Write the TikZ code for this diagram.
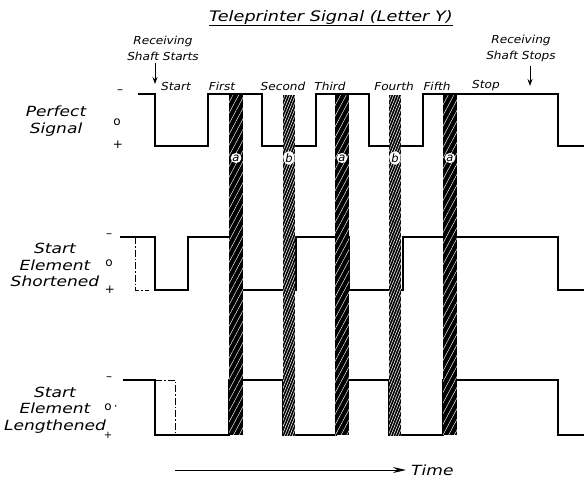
\documentclass[tikz,border=0pt]{standalone}
\usepackage{fontspec}
\setmainfont{DejaVu Sans}
\newfontfamily\handwide[FakeStretch=1.22]{DejaVu Sans}
\newfontfamily\handmid[FakeStretch=1.1]{DejaVu Sans}
\usetikzlibrary{patterns.meta,shapes.geometric,arrows.meta}
\begin{document}
\begin{tikzpicture}[x=1pt,y=-1pt,
  sig/.style={line width=1.4pt, line join=miter},
  dd/.style={line width=1pt, dash pattern=on 7pt off 2pt on 1.5pt off 2pt},
  lbl/.style={font=\handwide\itshape\fontsize{14}{16.5}\selectfont, inner sep=0pt},
  col/.style={font=\handmid\itshape\fontsize{11}{16}\selectfont, inner sep=0pt},
  mk/.style={font=\fontsize{12}{14}\selectfont, inner sep=0pt},
  abar/.style={fill=black, minimum width=14pt, minimum height=340pt, inner sep=0pt,
    postaction={pattern={Lines[angle=62,distance=5pt,line width=0.45pt]}, pattern color=white}},
  bbar/.style={fill=black, minimum width=12pt, minimum height=340pt, inner sep=0pt,
    postaction={pattern={Lines[angle=68,distance=2.4pt,line width=0.55pt]}, pattern color=white}},
  tag/.style={ellipse, fill=white, inner sep=0.3pt, font=\itshape\fontsize{11.5}{11.5}\selectfont},
  arr/.style={line width=1pt, -{Stealth[length=7pt,width=5pt]}},
  tarr/.style={line width=1pt, -{Stealth[length=13pt,width=6pt]}, shorten >=5pt}
]
\useasboundingbox (0,0) rectangle (584,480);

% title
\node[font=\handwide\itshape\fontsize{14.5}{16}\selectfont, inner sep=0pt] (title) at (331,18) {\underline{Teleprinter Signal (Letter Y)}};

% receiving shaft labels
\node[col, align=center] (rstart) at (163,48) {Receiving\\Shaft Starts};
\coordinate (rsa) at (155,63);
\coordinate (rsb) at (155,84);
\draw[arr] (rsa) -- (rsb);
\node[col, align=center] (rstop) at (521,48) {Receiving\\Shaft Stops};
\coordinate (rpa) at (530,66);
\coordinate (rpb) at (530,86);
\draw[arr] (rpa) -- (rpb);

% column labels
\node[col] (cstart) at (176,86) {Start};
\node[col] (cfirst) at (222,86) {First};
\node[col] (csecond) at (283,86) {Second};
\node[col] (cthird) at (330,86) {Third};
\node[col] (cfourth) at (394,86) {Fourth};
\node[col] (cfifth) at (437,86) {Fifth};
\node[col] (cstop) at (486,86) {Stop};

% left labels
\node[lbl, align=center] (perf) at (56,121) {Perfect\\Signal};
\node[lbl, align=center] (shor) at (55,265) {Start\\Element\\Shortened};
\node[lbl, align=center] (leng) at (55,410) {Start\\Element\\Lengthened};

% level markers
\node[mk] (m1a) at (120,92) {–};
\node[mk] (m1b) at (117,122) {o};
\node[mk] (m1c) at (118,145) {+};
\node[mk] (m2a) at (109,236) {–};
\node[mk] (m2b) at (109,263) {o};
\node[mk] (m2c) at (110,290) {+};
\node[mk] (m3a) at (109,379) {–};
\node[mk] (m3b) at (111,407) {o\,·};
\node[mk, font=\fontsize{10}{10}\selectfont] (m3c) at (108,435) {+};

% perfect signal
\draw[sig] (138,94) -- (155,94) -- (155,146) -- (208,146) -- (208,94) -- (262,94) -- (262,146)
  -- (316,146) -- (316,94) -- (369,94) -- (369,146) -- (423,146) -- (423,94) -- (558,94)
  -- (558,146) -- (584,146);

% shortened
\draw[sig] (120,237) -- (155,237) -- (155,290) -- (188,290) -- (188,237) -- (242,237) -- (242,290)
  -- (296,290) -- (296,237) -- (349,237) -- (349,290) -- (403,290) -- (403,237) -- (558,237)
  -- (558,290) -- (584,290);
\draw[dd] (135,237) -- (135,290) -- (149,290);

% lengthened
\draw[sig] (123,380) -- (155,380) -- (155,435) -- (229,435) -- (229,380) -- (283,380) -- (283,435)
  -- (336,435) -- (336,380) -- (389,380) -- (389,435) -- (443,435) -- (443,380) -- (558,380)
  -- (558,435) -- (584,435);
\draw[dd] (155,380) -- (175,380) -- (175,435);

% sampling bars
\node[abar] (a1) at (236,265) {};
\node[bbar] (b1) at (289,265) {};
\node[abar] (a2) at (342,265) {};
\node[bbar] (b2) at (395,265) {};
\node[abar] (a3) at (450,265) {};

\node[tag] (ta1) at (236,158) {a};
\node[tag] (tb1) at (289,158) {b};
\node[tag] (ta2) at (342,158) {a};
\node[tag] (tb2) at (395,158) {b};
\node[tag] (ta3) at (450,158) {a};

% time arrow
\node[lbl, anchor=west] (time) at (411,470) {Time};
\coordinate (t0) at (175,470);
\draw[tarr] (t0) -- (time.west);
\end{tikzpicture}
\end{document}
